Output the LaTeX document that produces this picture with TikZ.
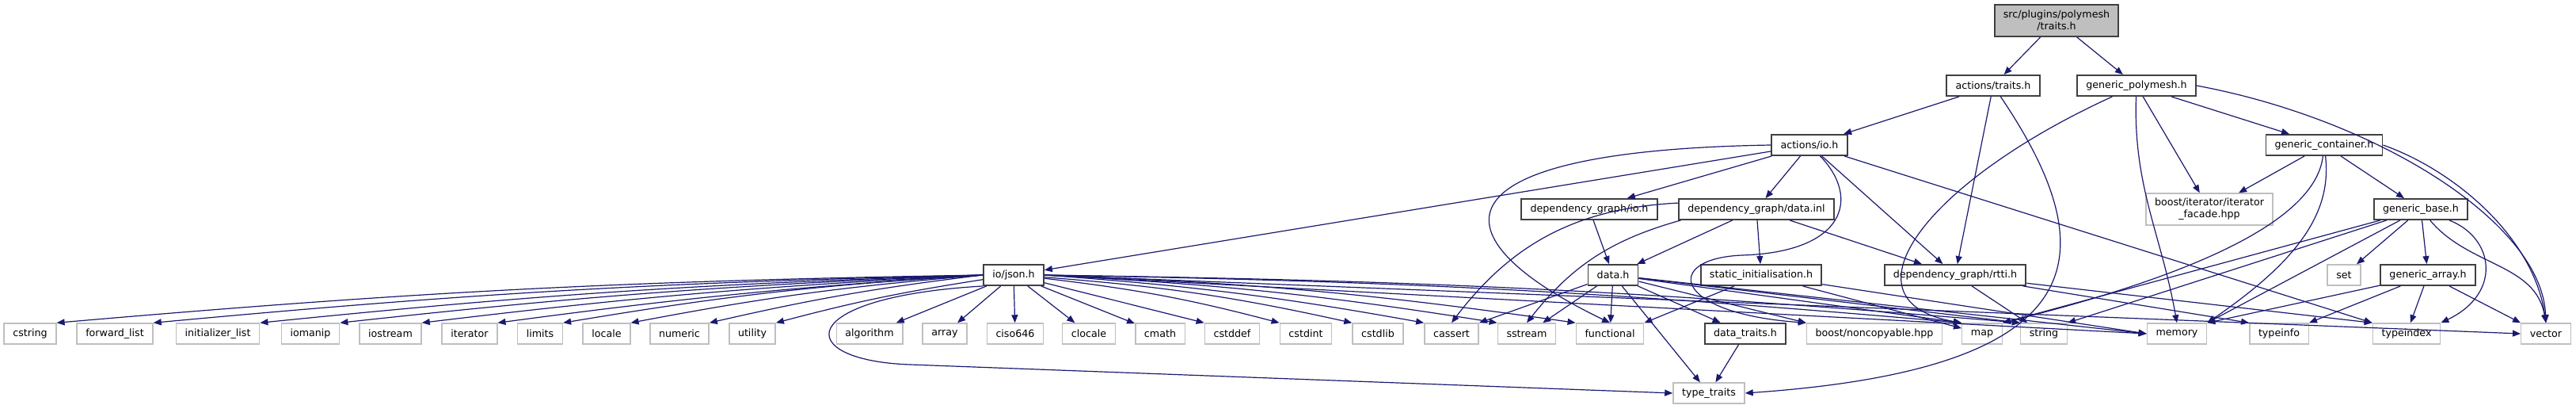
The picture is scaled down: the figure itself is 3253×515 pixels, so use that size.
\documentclass[tikz,border=0pt]{standalone}
\usepackage{fontspec}
\setmainfont{DejaVu Sans}
\usetikzlibrary{arrows.meta}
\definecolor{edgeblue}{HTML}{191970}
\definecolor{boxgray}{HTML}{404040}
\definecolor{leafgray}{HTML}{BFBFBF}

\begin{document}
\begin{tikzpicture}[
    x=0.75pt, y=-0.75pt,
    box/.style={draw=boxgray, line width=1.4pt, minimum height=19.5pt, inner xsep=8.4pt, inner ysep=2pt, align=center, font=\fontsize{9.5}{11.5}\selectfont},
    sysbox/.style={box, draw=leafgray, line width=1.1pt},
    rootbox/.style={box, fill=leafgray, minimum height=30pt},
    dep/.style={-{Triangle[length=7.5pt,width=6pt]}, draw=edgeblue, line width=0.9pt}
]
    \useasboundingbox (0,0) rectangle (3253,515);

    % upper rows
    \node[rootbox] (root) at (2597,26) {src/plugins/polymesh\\/traits.h};
    \node[box] (acttraits) at (2517,108) {actions/traits.h};
    \node[box] (genpoly) at (2698,108) {generic\_polymesh.h};
    \node[box] (actio) at (2285,183) {actions/io.h};
    \node[box] (gencont) at (2935,183) {generic\_container.h};
    \node[box] (dgio) at (2007,264) {dependency\_graph/io.h};
    \node[box] (dgdata) at (2218,264) {dependency\_graph/data.inl};
    \node[sysbox, minimum height=30pt] (facade) at (2790,264) {boost/iterator/iterator\\\_facade.hpp};
    \node[box] (genbase) at (3057,264) {generic\_base.h};
    \node[box] (json) at (1280,347) {io/json.h};
    \node[box] (datah) at (2037,347) {data.h};
    \node[box] (statinit) at (2224,347) {static\_initialisation.h};
    \node[box] (rtti) at (2469,347) {dependency\_graph/rtti.h};
    \node[sysbox] (set) at (2960,347) {set};
    \node[box] (genarray) at (3066,347) {generic\_array.h};

    % leaf row
    \node[sysbox] (cstring) at (38,421) {cstring};
    \node[sysbox] (fwdlist) at (145,421) {forward\_list};
    \node[sysbox] (initlist) at (275,421) {initializer\_list};
    \node[sysbox] (iomanip) at (392,421) {iomanip};
    \node[sysbox] (iostream) at (493,421) {iostream};
    \node[sysbox] (iterator) at (593,421) {iterator};
    \node[sysbox] (limits) at (682,421) {limits};
    \node[sysbox] (locale) at (766,421) {locale};
    \node[sysbox] (numeric) at (858,421) {numeric};
    \node[sysbox] (utility) at (950,421) {utility};
    \node[sysbox] (algorithm) at (1098,421) {algorithm};
    \node[sysbox] (array) at (1193,421) {array};
    \node[sysbox] (ciso) at (1282,421) {ciso646};
    \node[sysbox] (clocale) at (1375,421) {clocale};
    \node[sysbox] (cmath) at (1465,421) {cmath};
    \node[sysbox] (cstddef) at (1556,421) {cstddef};
    \node[sysbox] (cstdint) at (1649,421) {cstdint};
    \node[sysbox] (cstdlib) at (1740,421) {cstdlib};
    \node[sysbox] (cassert) at (1833,421) {cassert};
    \node[sysbox] (sstream) at (1928,421) {sstream};
    \node[sysbox] (functional) at (2033,421) {functional};
    \node[box] (datatraits) at (2204,421) {data\_traits.h};
    \node[sysbox] (noncopy) at (2367,421) {boost/noncopyable.hpp};
    \node[sysbox] (map) at (2503,421) {map};
    \node[sysbox] (string) at (2581,421) {string};
    \node[sysbox] (memory) at (2749,421) {memory};
    \node[sysbox] (typeinfo) at (2878,421) {typeinfo};
    \node[sysbox] (typeindex) at (3039,421) {typeindex};
    \node[sysbox] (vector) at (3215,421) {vector};
    \node[sysbox] (typetraits) at (2158,496) {type\_traits};

    % root and its direct includes
    \draw[dep] (root) -- (acttraits);
    \draw[dep] (root) -- (genpoly);
    \draw[dep] (acttraits) -- (actio);
    \draw[dep] (acttraits) -- (rtti);
    \draw[dep] (acttraits) .. controls (2660,320) and (2650,465) .. (typetraits.east);
    \draw[dep] (genpoly) .. controls (2430,230) and (2320,380) .. (map.north west);
    \draw[dep] (genpoly) to[out=-92, in=100] (memory.north);
    \draw[dep] (genpoly) -- (facade);
    \draw[dep] (genpoly) -- (gencont);
    \draw[dep] (genpoly.east) .. controls (3000,150) and (3210,280) .. (vector.north);

    % actions/io.h
    \draw[dep] (actio) -- (json);
    \draw[dep] (actio.west) .. controls (1800,190) and (1810,300) .. (functional.north);
    \draw[dep] (actio) -- (dgio);
    \draw[dep] (actio) -- (dgdata);
    \draw[dep] (actio) .. controls (2350,250) and (2330,318) .. (2200,322) .. controls (2100,326) and (2110,395) .. (noncopy.north west);
    \draw[dep] (actio) -- (rtti);
    \draw[dep] (actio) -- (typeindex.north west);

    % dependency_graph
    \draw[dep] (dgio) -- (datah);
    \draw[dep] (dgdata) -- (datah);
    \draw[dep] (dgdata) -- (statinit);
    \draw[dep] (dgdata) -- (rtti);
    \draw[dep] (dgdata) to[bend right=25] (cassert.north);
    \draw[dep] (dgdata) to[bend right=18] (sstream.north);

    % io/json.h
    \draw[dep] (json.west) to[bend right=2] (cstring.north east);
    \draw[dep] (json.west) to[bend right=2] (fwdlist.north east);
    \draw[dep] (json.west) to[bend right=2] (initlist.north east);
    \draw[dep] (json.west) to[bend right=2] (iomanip.north east);
    \draw[dep] (json.west) to[bend right=2] (iostream.north east);
    \draw[dep] (json.west) to[bend right=2] (iterator.north east);
    \draw[dep] (json.west) to[bend right=3] (limits.north east);
    \draw[dep] (json.west) to[bend right=3] (locale.north east);
    \draw[dep] (json.west) to[bend right=3] (numeric.north east);
    \draw[dep] (json) to[bend right=3] (utility.north east);
    \draw[dep] (json) -- (algorithm);
    \draw[dep] (json) -- (array);
    \draw[dep] (json) -- (ciso);
    \draw[dep] (json) -- (clocale);
    \draw[dep] (json) -- (cmath);
    \draw[dep] (json) -- (cstddef.north west);
    \draw[dep] (json) to[bend left=4] (cstdint.north west);
    \draw[dep] (json) to[bend left=4] (cstdlib.north west);
    \draw[dep] (json.east) to[bend left=3] (cassert.north west);
    \draw[dep] (json.east) to[bend left=3] (sstream.north west);
    \draw[dep] (json.east) to[bend left=3] (functional.north west);
    \draw[dep] (json.east) to[bend left=2] (map.north west);
    \draw[dep] (json.east) to[bend left=2] (string.north west);
    \draw[dep] (json.east) -- (memory.west);
    \draw[dep] (json.east) -- (vector.west);
    \draw[dep] (json.south west) .. controls (1000,375) and (1000,455) .. (1150,460) -- (typetraits.west);

    % data.h and static_initialisation.h
    \draw[dep] (datah) -- (cassert.north east);
    \draw[dep] (datah) -- (sstream);
    \draw[dep] (datah) -- (functional);
    \draw[dep] (datah) -- (typetraits);
    \draw[dep] (datah) -- (datatraits);
    \draw[dep] (datah) -- (noncopy.north west);
    \draw[dep] (datah) -- (map.north west);
    \draw[dep] (datah) -- (string.north west);
    \draw[dep] (datah) -- (memory.west);
    \draw[dep] (statinit) -- (functional.north east);
    \draw[dep] (statinit) -- (map);
    \draw[dep] (statinit) -- (memory.west);
    \draw[dep] (datatraits) -- (typetraits);

    % rtti
    \draw[dep] (rtti) -- (string);
    \draw[dep] (rtti) -- (typeinfo.north west);
    \draw[dep] (rtti) -- (typeindex.north west);

    % generic containers
    \draw[dep] (gencont) -- (facade);
    \draw[dep] (gencont) .. controls (2925,270) and (2800,340) .. (map.north east);
    \draw[dep] (gencont) .. controls (2945,270) and (2900,330) .. (memory.north east);
    \draw[dep] (gencont) -- (genbase);
    \draw[dep] (gencont.east) .. controls (3100,215) and (3200,300) .. (vector.north);
    \draw[dep] (genbase) -- (map.north east);
    \draw[dep] (genbase) -- (string.north east);
    \draw[dep] (genbase) -- (memory.north east);
    \draw[dep] (genbase) -- (set);
    \draw[dep] (genbase) -- (genarray);
    \draw[dep] (genbase) .. controls (3150,300) and (3160,370) .. (typeindex.north east);
    \draw[dep] (genbase) to[out=-50, in=100] (vector.north);
    \draw[dep] (genarray) -- (memory.north east);
    \draw[dep] (genarray) -- (typeinfo.north east);
    \draw[dep] (genarray) -- (typeindex);
    \draw[dep] (genarray) -- (vector.north west);
\end{tikzpicture}
\end{document}
